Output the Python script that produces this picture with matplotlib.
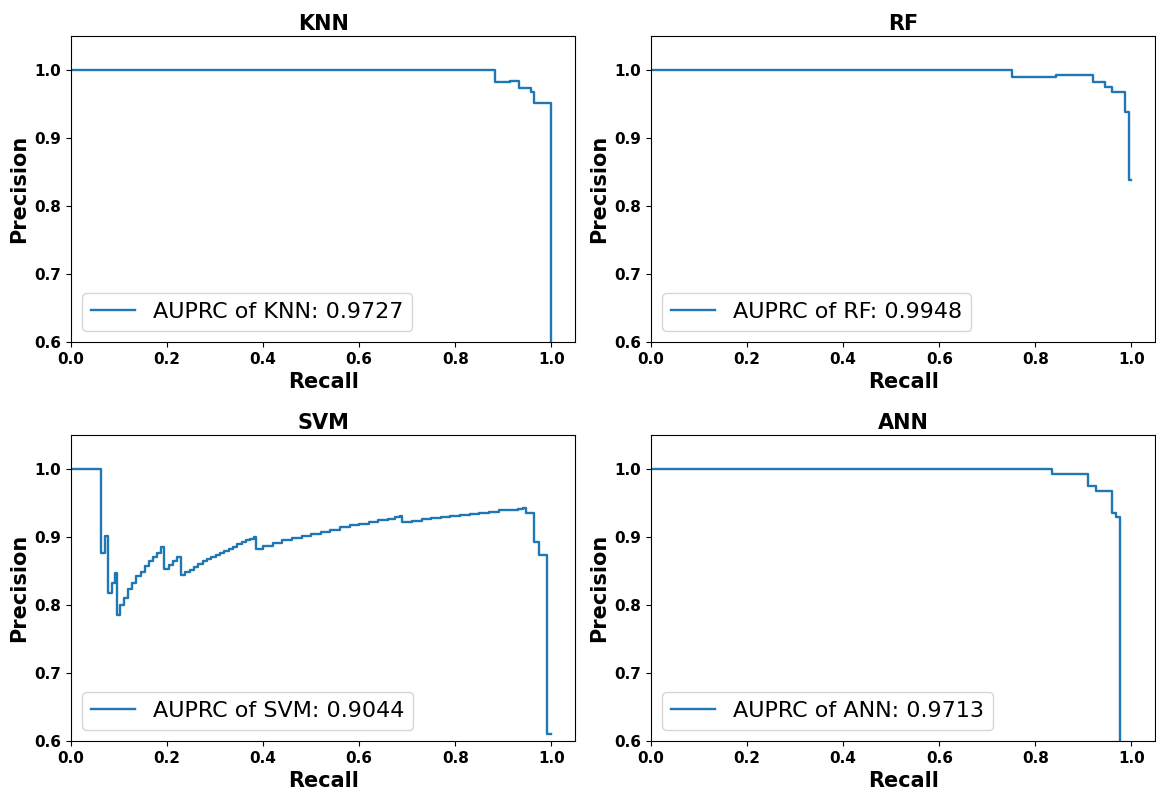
import matplotlib.pyplot as plt

# Precision-recall curves (step, where='post')
knn_recall = [0.0, 0.883, 0.914, 0.932, 0.957, 0.964, 1.0]
knn_precision = [1.0, 0.982, 0.984, 0.974, 0.967, 0.951, 0.5]

rf_recall = [0.0, 0.752, 0.844, 0.920, 0.944, 0.960, 0.987, 0.994, 1.0]
rf_precision = [1.0, 0.990, 0.992, 0.982, 0.975, 0.967, 0.938, 0.838, 0.838]

svm_recall = [0.0, 0.063, 0.070, 0.077, 0.085, 0.091, 0.096, 0.103, 0.110, 0.119,
              0.127, 0.136, 0.145, 0.154, 0.162, 0.171, 0.179, 0.187, 0.193, 0.204,
              0.212, 0.220, 0.229, 0.238, 0.247, 0.256, 0.265, 0.274, 0.283, 0.292,
              0.301, 0.310, 0.319, 0.328, 0.337, 0.346, 0.355, 0.364, 0.373, 0.380,
              0.385, 0.40, 0.42, 0.44, 0.46, 0.48, 0.50, 0.52, 0.54, 0.56,
              0.58, 0.60, 0.62, 0.64, 0.66, 0.675, 0.685, 0.690, 0.71, 0.73,
              0.75, 0.77, 0.79, 0.81, 0.83, 0.85, 0.87, 0.89, 0.91, 0.93,
              0.940, 0.947, 0.964, 0.974, 0.991, 1.0]
svm_precision = [1.0, 0.876, 0.901, 0.818, 0.832, 0.847, 0.785, 0.800, 0.811, 0.823,
                 0.833, 0.842, 0.849, 0.857, 0.864, 0.871, 0.877, 0.885, 0.853, 0.859,
                 0.865, 0.871, 0.844, 0.848, 0.852, 0.856, 0.860, 0.864, 0.867, 0.871,
                 0.874, 0.877, 0.880, 0.883, 0.886, 0.889, 0.892, 0.895, 0.897, 0.900,
                 0.883, 0.887, 0.891, 0.895, 0.899, 0.902, 0.905, 0.908, 0.911, 0.914,
                 0.917, 0.919, 0.922, 0.925, 0.927, 0.929, 0.931, 0.922, 0.924, 0.926,
                 0.928, 0.930, 0.931, 0.933, 0.934, 0.936, 0.937, 0.939, 0.940, 0.941,
                 0.942, 0.935, 0.893, 0.873, 0.610, 0.610]

ann_recall = [0.0, 0.834, 0.910, 0.926, 0.960, 0.967, 0.976, 1.0]
ann_precision = [1.0, 0.992, 0.975, 0.967, 0.936, 0.930, 0.5, 0.5]

models = ["KNN", "RF", "SVM", "ANN"]
auprc = ["0.9727", "0.9948", "0.9044", "0.9713"]
curves = [(knn_recall, knn_precision), (rf_recall, rf_precision),
          (svm_recall, svm_precision), (ann_recall, ann_precision)]

fig, axes = plt.subplots(2, 2, figsize=(11.56, 7.99), dpi=100)
fig.subplots_adjust(left=0.0614, right=0.9995, bottom=0.0726, top=0.955,
                    wspace=0.15, hspace=0.304)

for ax, name, score, (rec, prec) in zip(axes.flat, models, auprc, curves):
    ax.step(rec, prec, where="post", color="tab:blue", lw=1.7,
            label=f"AUPRC of {name}: {score}")
    ax.set_xlim(0, 1.05)
    ax.set_ylim(0.6, 1.05)
    ax.set_xticks([0.0, 0.2, 0.4, 0.6, 0.8, 1.0])
    ax.set_yticks([0.6, 0.7, 0.8, 0.9, 1.0])
    ax.set_title(name, fontsize=15, fontweight="bold", pad=4)
    ax.set_xlabel("Recall", fontsize=15, fontweight="bold", labelpad=4)
    ax.set_ylabel("Precision", fontsize=15, fontweight="bold")
    for lbl in ax.get_xticklabels() + ax.get_yticklabels():
        lbl.set_fontweight("bold")
        lbl.set_fontsize(11)
    ax.legend(loc="lower left", fontsize=16)

plt.savefig("out.png", dpi=100)
